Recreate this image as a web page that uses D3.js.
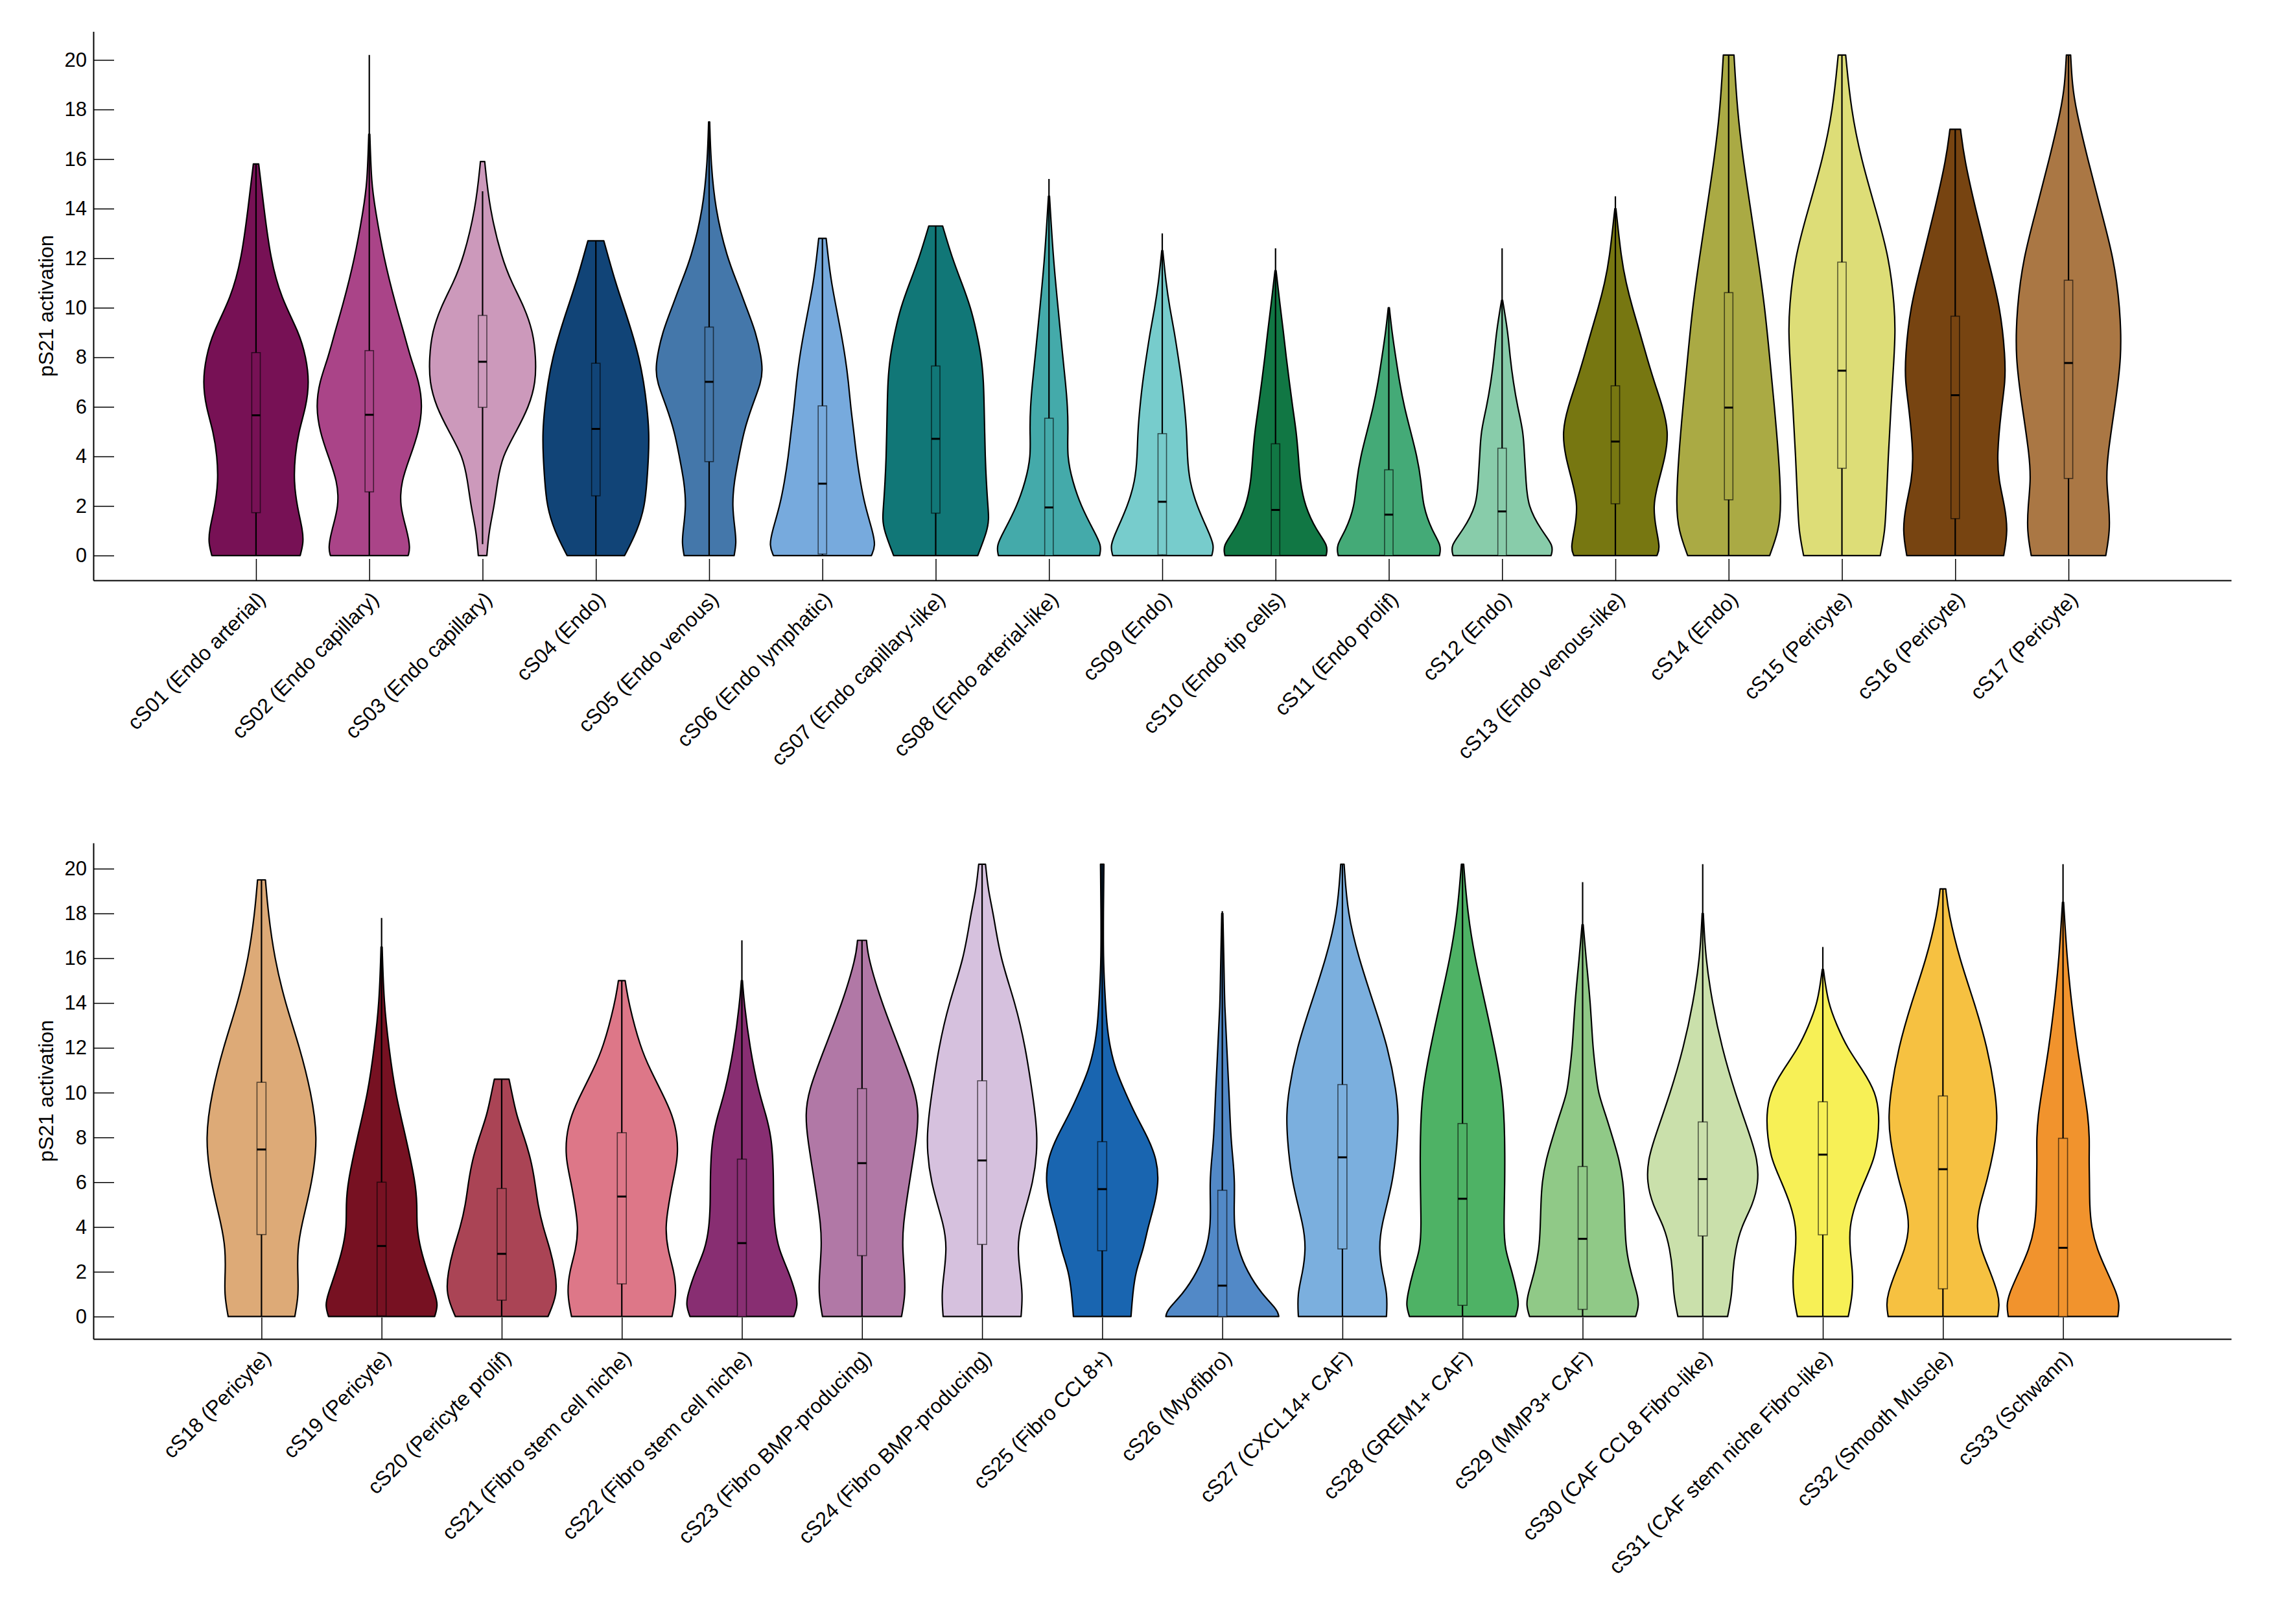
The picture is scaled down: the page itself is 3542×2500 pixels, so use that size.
<!DOCTYPE html>
<html>
<head>
<meta charset="utf-8">
<script src="https://cdn.jsdelivr.net/npm/d3@7"></script>
<style>
  body { margin: 0; background: #fff; }
  text { font-family: "Liberation Sans", Arial, sans-serif; fill: #000; }
</style>
</head>
<body>
<svg id="chart" width="3542" height="2500"></svg>
<script>
// Tick values shared by both panels
var yTicks = [0, 2, 4, 6, 8, 10, 12, 14, 16, 18, 20];
var yLabel = "pS21 activation";

// ---- top panel ----
var topLabels = ["cS01 (Endo arterial)", "cS02 (Endo capillary)", "cS03 (Endo capillary)", "cS04 (Endo)",
    "cS05 (Endo venous)", "cS06 (Endo lymphatic)", "cS07 (Endo capillary-like)", "cS08 (Endo arterial-like)",
    "cS09 (Endo)", "cS10 (Endo tip cells)", "cS11 (Endo prolif)", "cS12 (Endo)", "cS13 (Endo venous-like)",
    "cS14 (Endo)", "cS15 (Pericyte)", "cS16 (Pericyte)", "cS17 (Pericyte)"];
var topColors = ["#771155", "#AA4488", "#CC99BB", "#114477", "#4477AA", "#77AADD", "#117777", "#44AAAA",
    "#77CCCC", "#117744", "#44AA77", "#88CCAA", "#777711", "#AAAA44", "#DDDD77", "#774411", "#AA7744"];
// [whisker low, q1, median, q3, whisker high]
var topStats = [
    [0, 1.73, 5.66, 8.19, 15.8], [0, 2.57, 5.68, 8.27, 20.2], [0.46, 5.98, 7.82, 9.69, 14.7],
    [0, 2.41, 5.11, 7.76, 12.7], [0, 3.79, 7.01, 9.22, 17.5], [0, 0.06, 2.9, 6.04, 12.8],
    [0, 1.71, 4.71, 7.65, 13.3], [0, 0, 1.94, 5.54, 15.2], [0, 0.03, 2.17, 4.92, 13.0],
    [0, 0, 1.84, 4.51, 12.4], [0, 0, 1.65, 3.46, 10.0], [0, 0, 1.78, 4.33, 12.4],
    [0, 2.09, 4.6, 6.85, 14.5], [0, 2.25, 5.97, 10.61, 20.2], [0, 3.52, 7.46, 11.84, 20.2],
    [0, 1.49, 6.47, 9.66, 17.2], [0, 3.11, 7.77, 11.11, 20.2]];
// density outline: [value, relative half width]
var topProfiles = [
    [[0,.83],[0.5,.89],[1,.88],[2,.77],[3,.71],[4,.73],[5,.8],[6,.94],[7,1],[8,.94],[9,.81],[10.4,.47],[12,.27],[14,.15],[15.8,.05]],
    [[0,.73],[0.3,.77],[1,.71],[2,.57],[3,.6],[4,.77],[5,.93],[6,1],[7,.94],[8,.77],[9,.65],[10,.51],[12,.27],[14,.11],[15,.04],[17,.01]],
    [[0,.08],[1,.12],[2,.22],[3,.28],[4,.37],[5,.63],[6,.87],[7,1],[8,1],[9,.95],[10,.79],[11,.55],[12,.36],[14,.13],[15.9,.04]],
    [[0,.54],[1,.78],[2,.92],[3,.96],[4,.99],[5,1],[6,.96],[7,.9],[8,.81],[9,.68],[10,.53],[11,.37],[12.7,.15]],
    [[0,.47],[0.5,.51],[1,.49],[2,.43],[3,.47],[4,.56],[5,.65],[6,.8],[7,.98],[7.5,1],[8,.98],[9,.88],[10,.7],[11,.53],[12,.34],[14,.11],[16,.03],[17.5,.01]],
    [[0,.92],[0.4,1],[1,.94],[2,.8],[3,.71],[4,.64],[5,.59],[6,.53],[7,.49],[8,.43],[9,.35],[10,.26],[11,.17],[12,.11],[12.8,.07]],
    [[0,.79],[1,.97],[1.5,1],[2,.98],[3,.95],[4,.93],[5,.92],[6,.91],[7,.9],[8,.86],[9,.77],[10,.66],[11,.49],[12,.31],[13.3,.13]],
    [[0,.95],[0.4,.99],[1,.84],[2,.6],[3,.44],[4,.34],[5,.36],[6,.35],[7,.31],[8,.26],[10,.17],[12,.08],[14.5,.01]],
    [[0,.93],[0.4,.98],[1,.86],[2,.65],[3,.51],[4,.47],[5,.46],[6,.42],[7,.37],[8,.3],[9,.23],[10,.14],[11,.07],[12.3,.01]],
    [[0,.95],[0.4,.99],[1,.77],[2,.55],[3,.46],[4,.43],[5,.39],[6,.32],[7,.26],[8,.2],[9,.15],[10,.09],[11.5,.01]],
    [[0,.95],[0.4,.99],[1,.81],[2,.64],[3,.61],[4,.53],[5,.41],[6,.29],[7,.2],[8,.13],[9,.06],[10,.01]],
    [[0,.92],[0.4,.97],[1,.74],[2,.48],[3,.45],[4,.42],[5,.4],[6,.29],[7,.21],[8,.15],[9,.11],[10.3,.01]],
    [[0,.78],[0.3,.84],[1,.77],[2,.7],[3,.81],[4,.94],[5,1],[6,.89],[7,.73],[8,.59],[9,.46],[10,.32],[11,.2],[12,.11],[14,.01]],
    [[0,.77],[1,.94],[2,.99],[4,.94],[6,.86],[8,.77],[10,.68],[12,.55],[14,.41],[16,.27],[18,.16],[20.2,.1]],
    [[0,.72],[1,.81],[2,.83],[4,.87],[6,.92],[8,.98],[9,1],[10,.99],[12,.89],[14,.63],[16,.36],[18,.17],[20.2,.07]],
    [[0,.91],[1,.99],[2,.93],[3,.82],[4,.78],[6,.87],[7,.94],[8,.94],[10,.85],[12,.61],[14,.38],[16,.17],[17.2,.1]],
    [[0,.7],[1,.78],[2,.76],[3,.71],[4,.73],[6,.87],[8,1],[10,.97],[12,.85],[14,.6],[16,.36],[18,.14],[19,.07],[20.2,.04]]];

// ---- bottom panel ----
var bottomLabels = ["cS18 (Pericyte)", "cS19 (Pericyte)", "cS20 (Pericyte prolif)", "cS21 (Fibro stem cell niche)",
    "cS22 (Fibro stem cell niche)", "cS23 (Fibro BMP-producing)", "cS24 (Fibro BMP-producing)", "cS25 (Fibro CCL8+)",
    "cS26 (Myofibro)", "cS27 (CXCL14+ CAF)", "cS28 (GREM1+ CAF)", "cS29 (MMP3+ CAF)", "cS30 (CAF CCL8 Fibro-like)",
    "cS31 (CAF stem niche Fibro-like)", "cS32 (Smooth Muscle)", "cS33 (Schwann)"];
var bottomColors = ["#DDAA77", "#771122", "#AA4455", "#DD7788", "#882E72", "#B178A6", "#D6C1DE", "#1965B0",
    "#5289C7", "#7BAFDE", "#4EB265", "#90C987", "#CAE0AB", "#F7F056", "#F6C141", "#F1932D"];
var bottomStats = [
    [0, 3.66, 7.46, 10.46, 19.5], [0, 0.03, 3.15, 6.0, 17.8], [0, 0.73, 2.8, 5.72, 10.6],
    [0, 1.46, 5.36, 8.21, 15.0], [0, 0, 3.28, 7.03, 16.8], [0, 2.72, 6.85, 10.18, 16.8],
    [0, 3.22, 6.97, 10.53, 20.2], [0, 2.94, 5.69, 7.81, 20.2], [0, 0, 1.38, 5.64, 18.1],
    [0, 3.02, 7.11, 10.36, 20.2], [0, 0.5, 5.26, 8.62, 20.2], [0, 0.32, 3.47, 6.7, 19.4],
    [0, 3.6, 6.14, 8.69, 20.2], [0, 3.65, 7.23, 9.59, 16.5], [0, 1.24, 6.58, 9.85, 19.1],
    [0, 0, 3.07, 7.96, 20.2]];
var bottomProfiles = [
    [[0,.59],[1,.66],[2,.64],[3,.64],[4,.7],[6,.9],[8,1],[10,.88],[12,.68],[14,.42],[16,.23],[18,.12],[19.5,.07]],
    [[0,.94],[0.5,1],[1,.95],[2,.81],[3,.69],[4,.62],[5,.63],[6,.6],[8,.43],[10,.24],[12,.13],[14,.04],[16.5,.01]],
    [[0,.82],[1,.99],[2,.95],[3,.86],[4,.73],[5,.64],[6,.59],[7,.52],[8,.4],[9,.26],[10,.18],[10.6,.13]],
    [[0,.89],[1,.97],[2,.93],[3,.81],[4,.77],[5,.83],[6,.9],[7,.99],[8,.99],[9,.9],[10,.71],[11,.51],[12,.33],[14,.12],[15,.06]],
    [[0,.92],[0.5,.99],[1,.96],[2,.83],[3,.65],[4,.58],[5,.56],[6,.56],[7,.55],[8,.52],[9,.43],[10,.3],[12,.14],[14,.04],[15,.01]],
    [[0,.7],[1,.77],[2,.75],[3,.72],[4,.72],[6,.84],[8,.97],[9,1],[10,.96],[12,.66],[14,.35],[16,.11],[16.8,.08]],
    [[0,.69],[1,.72],[2,.67],[3,.63],[4,.66],[6,.92],[8,1],[10,.89],[12,.77],[14,.59],[16,.32],[18,.2],[19,.11],[20.2,.06]],
    [[0,.51],[1,.54],[2,.59],[3,.73],[4,.81],[5,.93],[6,1],[7,.97],[8,.81],[9,.59],[10,.41],[11,.24],[12,.14],[13,.08],[14.8,.04],[16,.02],[18,.02],[20.2,.03]],
    [[0,1],[0.3,.98],[1,.7],[2,.44],[3,.28],[4,.21],[5,.21],[6,.22],[7,.19],[8,.15],[10,.12],[12,.08],[14,.04],[15,.035],[18,.01]],
    [[0,.78],[1,.8],[2,.7],[3,.65],[4,.68],[6,.9],[8,.98],[9,.99],[10,.96],[12,.81],[14,.55],[16,.29],[18,.09],[20.2,.03]],
    [[0,.94],[0.5,1],[1,.97],[2,.88],[3,.75],[4,.73],[6,.75],[8,.75],[10,.72],[12,.57],[14,.4],[16,.22],[18,.09],[20.2,.02]],
    [[0,.94],[0.5,1],[1,.97],[2,.85],[3,.77],[4,.75],[5,.74],[6,.72],[7,.65],[8,.53],[9,.41],[10,.27],[11,.23],[12,.18],[14,.14],[16,.06],[17.5,.01]],
    [[0,.44],[1,.52],[2,.53],[3,.58],[4,.68],[5,.89],[6,.99],[7,.97],[8,.85],[10,.57],[12,.34],[14,.17],[16,.05],[18,.01]],
    [[0,.45],[1,.53],[2,.53],[3,.48],[4,.47],[5,.57],[6,.73],[7,.91],[8,.98],[9,1],[10,.94],[11,.71],[12,.43],[13,.25],[14,.09],[15.5,.01]],
    [[0,.97],[0.5,1],[1,.98],[2,.84],[3,.67],[4,.59],[5,.65],[6,.78],[8,.95],[9,.96],[10,.93],[12,.79],[14,.56],[16,.29],[18,.1],[19.1,.05]],
    [[0,.97],[0.5,1],[1,.96],[2,.78],[3,.6],[4,.5],[5,.47],[6,.47],[7,.46],[8,.47],[9,.44],[10,.38],[12,.25],[14,.15],[16,.07],[18.5,.01]]];

var svg = d3.select("#chart");
svg.append("rect").attr("width", 3542).attr("height", 2500).attr("fill", "#fff");

function drawPanel(labels, colors, stats, profiles, box) {
    // half width of a violin and of the box, in category units
    var violinHalf = 0.47,
        boxHalf = 0.0375,
        n = labels.length,
        pad = box.pad;

    var x = d3.scaleLinear().domain([1 - pad, n + pad]).range([box.left, box.right]);
    var y = d3.scaleLinear().domain([-1, 21.15]).range([box.bottom, box.top]);

    var g = svg.append("g");

    // Violins (smoothed outline, flat at both ends)
    var area = d3.area()
        .curve(d3.curveBasis)
        .y(function (d) { return y(d[0]); });

    profiles.forEach(function (prof, i) {
        var c = i + 1;
        area.x0(function (d) { return x(c - d[1] * violinHalf); })
            .x1(function (d) { return x(c + d[1] * violinHalf); });
        g.append("path")
            .attr("d", area(prof))
            .attr("fill", colors[i])
            .attr("stroke", "#000")
            .attr("stroke-width", 2.2)
            .attr("stroke-linejoin", "round");
    });

    // Whiskers, boxes and medians
    stats.forEach(function (s, i) {
        var c = i + 1;
        g.append("line")
            .attr("x1", x(c)).attr("x2", x(c))
            .attr("y1", y(s[0])).attr("y2", y(s[4]))
            .attr("stroke", "#000").attr("stroke-width", 2.2);
        g.append("rect")
            .attr("x", x(c - boxHalf))
            .attr("width", x(c + boxHalf) - x(c - boxHalf))
            .attr("y", y(s[3]))
            .attr("height", Math.max(0.5, y(s[1]) - y(s[3])))
            .attr("fill", colors[i])
            .attr("stroke", "#000")
            .attr("stroke-opacity", 0.6)
            .attr("stroke-width", 1.6);
        g.append("line")
            .attr("x1", x(c - boxHalf)).attr("x2", x(c + boxHalf))
            .attr("y1", y(s[2])).attr("y2", y(s[2]))
            .attr("stroke", "#000").attr("stroke-width", 3);
    });

    // Y axis, ticks pointing inward
    var yAxis = g.append("g")
        .attr("transform", "translate(" + box.left + ",0)")
        .call(d3.axisLeft(y).tickValues(yTicks).tickSize(-32).tickSizeOuter(0).tickPadding(10));
    yAxis.selectAll("text").style("font-size", "31px").attr("fill", "#000");

    // X axis, ticks pointing inward, rotated labels
    var xAxis = g.append("g")
        .attr("transform", "translate(0," + box.bottom + ")")
        .call(d3.axisBottom(x).tickValues(d3.range(1, n + 1)).tickSize(-33).tickSizeOuter(0).tickFormat(""));

    [yAxis, xAxis].forEach(function (a) {
        a.select(".domain").attr("stroke", "#000").attr("stroke-width", 2);
        a.selectAll(".tick line").attr("stroke", "#000").attr("stroke-width", 1.5);
    });

    g.selectAll(".xlab")
        .data(labels)
        .enter().append("text")
        .attr("class", "xlab")
        .attr("transform", function (d, i) {
            return "translate(" + x(i + 1) + "," + (box.bottom + 15) + ") rotate(-45)";
        })
        .attr("text-anchor", "end")
        .attr("dy", "0.72em")
        .style("font-size", "32px")
        .text(function (d) { return d; });

    g.append("text")
        .attr("transform", "translate(82," + ((box.top + box.bottom) / 2) + ") rotate(-90)")
        .attr("text-anchor", "middle")
        .style("font-size", "32px")
        .text(yLabel);
}

drawPanel(topLabels, topColors, topStats, topProfiles,
    { left: 144, right: 3442, top: 48.5, bottom: 895, pad: 1.436 });
drawPanel(bottomLabels, bottomColors, bottomStats, bottomProfiles,
    { left: 144, right: 3442, top: 1300, bottom: 2065, pad: 1.4 });
</script>
</body>
</html>
